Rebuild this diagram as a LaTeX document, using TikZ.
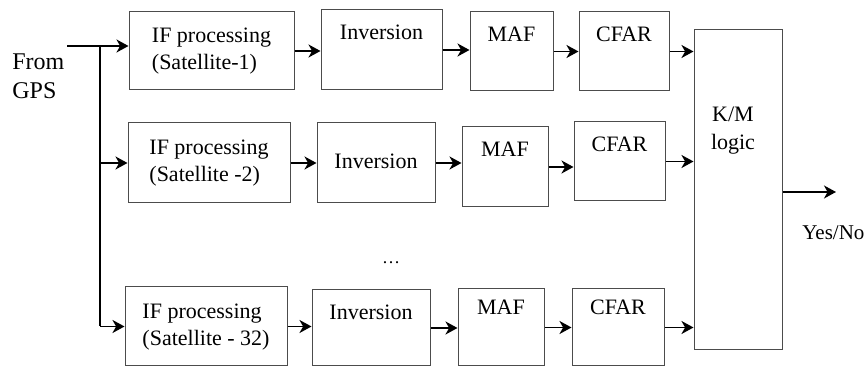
\documentclass[tikz,border=0pt]{standalone}
\usepackage{fontspec}
\setmainfont{Liberation Serif}
\usetikzlibrary{arrows.meta,fit}

\newcommand{\twolines}[2]{\begin{tabular}{@{}l@{}}#1\\#2\end{tabular}}

\begin{document}
\begin{tikzpicture}[x=0.5pt, y=-0.5pt,
    blk/.style={draw=black!70, line width=0.5pt, inner sep=0pt},
    toptxt/.style={anchor=north, yshift=-4pt, font=\fontsize{11}{14}\selectfont},
    midtxt/.style={anchor=center, inner sep=0pt, font=\fontsize{11}{13.5}\selectfont},
    arr/.style={line width=0.9pt, -{Stealth[length=6pt, width=6.5pt, inset=1.8pt]}}]
    \useasboundingbox (0,0) rectangle (868,367);

    % input
    \node[anchor=north west, align=left, inner sep=0pt, font=\fontsize{12}{14.5}\selectfont] (gps) at (12,53) {From\\GPS};
    \coordinate (src) at (67,46);
    \coordinate (br) at (100,46);

    % satellite 1
    \node[blk, fit={(129,12) (294,90)}, label={[midtxt]center:{\twolines{IF processing}{(Satellite-1)}}}] (if1) {};
    \node[blk, fit={(321,10) (442,90)}, label={[toptxt]north:Inversion}] (inv1) {};
    \node[blk, fit={(470,12) (553,91)}, label={[toptxt]north:MAF}] (maf1) {};
    \node[blk, fit={(579,12) (669,91)}, label={[toptxt]north:CFAR}] (cfar1) {};

    % satellite 2
    \node[blk, fit={(128,123) (290,203)}, label={[midtxt]center:{\twolines{IF processing}{(Satellite -2)}}}] (if2) {};
    \node[blk, fit={(317,123) (435,203)}, label={[midtxt, yshift=1pt]center:Inversion}] (inv2) {};
    \node[blk, fit={(462,127) (548,207)}, label={[toptxt]north:MAF}] (maf2) {};
    \node[blk, fit={(574,122) (665,201)}, label={[toptxt]north:CFAR}] (cfar2) {};

    \node[anchor=base, inner sep=0pt, font=\fontsize{9}{9}\selectfont] (dots) at (391,264) {\dots};

    % satellite 32
    \node[blk, fit={(125,287) (287,366)}, label={[midtxt]center:{\twolines{IF processing}{(Satellite - 32)}}}] (if3) {};
    \node[blk, fit={(312,290) (430,366)}, label={[toptxt]north:Inversion}] (inv3) {};
    \node[blk, fit={(458,289) (544,366)}, label={[toptxt, yshift=2pt]north:MAF}] (maf3) {};
    \node[blk, fit={(572,289) (664,366)}, label={[toptxt, yshift=2pt]north:CFAR}] (cfar3) {};

    % decision
    \node[blk, fit={(694,30) (782,350)}, label={[anchor=north, xshift=-2.5pt, yshift=-35pt, align=center, font=\fontsize{11}{14}\selectfont]north:{K/M\\logic}}] (km) {};
    \coordinate (outp) at (836,192);
    \node[anchor=base west, inner sep=0pt, font=\fontsize{10.5}{12}\selectfont] (yesno) at (802,240) {Yes/No};

    \draw[arr] (src) -- (if1.west |- src);
    \draw[line width=0.7pt] (br) -- (br |- if3.west);
    \draw[arr] (br |- if2.west) -- (if2.west);
    \draw[arr] (br |- if3.west) -- (if3.west);

    \foreach \r in {1,2,3} {
        \draw[arr] (if\r.east) -- (inv\r.west |- if\r.east);
        \draw[arr] (inv\r.east) -- (maf\r.west |- inv\r.east);
        \draw[arr] (maf\r.east) -- (cfar\r.west |- maf\r.east);
        \draw[arr] (cfar\r.east) -- (km.west |- cfar\r.east);
    }
    \draw[arr] (km.east |- outp) -- (outp);
\end{tikzpicture}
\end{document}
